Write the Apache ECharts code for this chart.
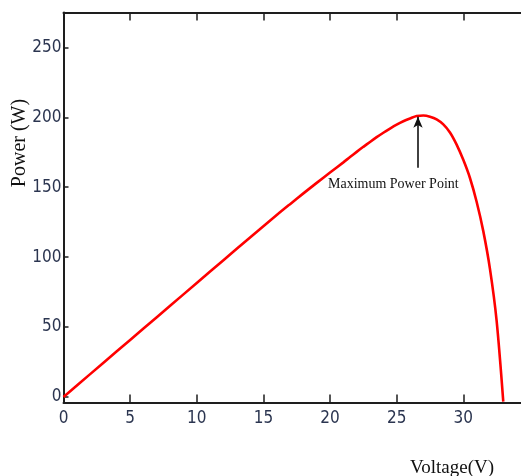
<!DOCTYPE html>
<html>
<head>
<meta charset="utf-8">
<script src="https://cdn.jsdelivr.net/npm/echarts@6/dist/echarts.min.js"></script>
<style>
html,body{margin:0;padding:0;background:#fff;}
#c{width:521px;height:476px;}
</style>
</head>
<body>
<div id="c"></div>
<script>
// Data
const voltage = [0, 2, 4, 6, 8, 10, 12, 14, 16, 17, 18, 19, 20, 21, 21.5, 22, 22.5, 23, 23.5, 24, 24.5, 25, 25.5, 26, 26.5, 27, 27.5, 28, 28.5, 29, 29.5, 30, 30.5, 31, 31.5, 32, 32.5, 33];
const power   = [0, 16.3, 32.6, 48.9, 65.2, 81.5, 97.8, 114.1, 130.1, 137.9, 145.6, 153.1, 160.5, 167.8, 171.6, 175.3, 178.9, 182.4, 185.8, 189, 192, 194.8, 197.2, 199.2, 201.0, 201.3, 200.5, 198.6, 195.0, 189.2, 180.5, 169.6, 156.6, 139.6, 118.6, 91.6, 54.6, -3.4];
const yTicks  = [0, 50, 100, 150, 200, 250];
const xTicks  = [0, 5, 10, 15, 20, 25, 30];
const xRange  = [0, 34.33];
const yRange  = [-4, 275];
const mppArrow = {v: 26.6, from: 164, to: 200.5};
const annotation = 'Maximum Power Point';
const xTitle = 'Voltage(V)';
const yTitle = 'Power (W)';

const points = voltage.map((v, i) => [v, power[i]]);
const tickFont = '"Liberation Sans Narrow", "DejaVu Sans Condensed", "Liberation Sans", sans-serif';
const serif = '"Liberation Serif", "DejaVu Serif", serif';
const axisCol = '#1e1e1e';

const chart = echarts.init(document.getElementById('c'), null, {renderer: 'canvas'});
chart.setOption({
  backgroundColor: '#ffffff',
  animation: false,
  grid: {left: 63.5, top: 12.5, right: 0, bottom: 73.5, containLabel: false},
  xAxis: [{
    type: 'value', min: xRange[0], max: xRange[1],
    position: 'bottom',
    axisLine: {show: true, onZero: false, lineStyle: {color: axisCol, width: 2}},
    axisTick: {show: true, inside: true, length: 8, customValues: xTicks, lineStyle: {color: axisCol, width: 1.5}},
    axisLabel: {show: true, margin: 8, customValues: xTicks, color: '#2b3550', fontFamily: tickFont, fontSize: 17},
    splitLine: {show: false}
  }, {
    type: 'value', min: xRange[0], max: xRange[1],
    position: 'top',
    axisLine: {show: true, onZero: false, lineStyle: {color: axisCol, width: 2}},
    axisTick: {show: true, inside: true, length: 8, customValues: xTicks, lineStyle: {color: axisCol, width: 1.5}},
    axisLabel: {show: false},
    splitLine: {show: false}
  }],
  yAxis: [{
    type: 'value', min: yRange[0], max: yRange[1],
    axisLine: {show: true, onZero: false, lineStyle: {color: axisCol, width: 2}},
    axisTick: {show: true, inside: true, length: 5, customValues: yTicks, lineStyle: {color: axisCol, width: 1.5}},
    axisLabel: {show: true, margin: 2, customValues: yTicks, color: '#2b3550', fontFamily: tickFont, fontSize: 17},
    splitLine: {show: false}
  }],
  series: [{
    type: 'line',
    data: points,
    xAxisIndex: 0, yAxisIndex: 0,
    showSymbol: false,
    smooth: 0.3,
    clip: true,
    lineStyle: {color: '#ff0000', width: 2.6},
    markLine: {
      silent: true,
      symbol: ['none', 'arrow'],
      symbolSize: [7, 11],
      lineStyle: {color: '#111', width: 1.6, type: 'solid'},
      label: {show: false},
      data: [[{coord: [mppArrow.v, mppArrow.from]}, {coord: [mppArrow.v, mppArrow.to]}]]
    },
    markPoint: {
      silent: true,
      symbol: 'circle', symbolSize: 0,
      label: {show: true, position: 'inside', formatter: annotation, color: '#111', fontFamily: serif, fontSize: 14},
      data: [{coord: [24.75, 152]}]
    }
  }],
  graphic: [{
    type: 'text', x: 20, y: 143, rotation: Math.PI / 2,
    style: {text: yTitle, fill: '#111', font: '20px ' + serif, textAlign: 'center', textVerticalAlign: 'middle'}
  }, {
    type: 'text', x: 452, y: 468,
    style: {text: xTitle, fill: '#111', font: '19px ' + serif, textAlign: 'center', textVerticalAlign: 'middle'}
  }]
});
</script>
</body>
</html>
